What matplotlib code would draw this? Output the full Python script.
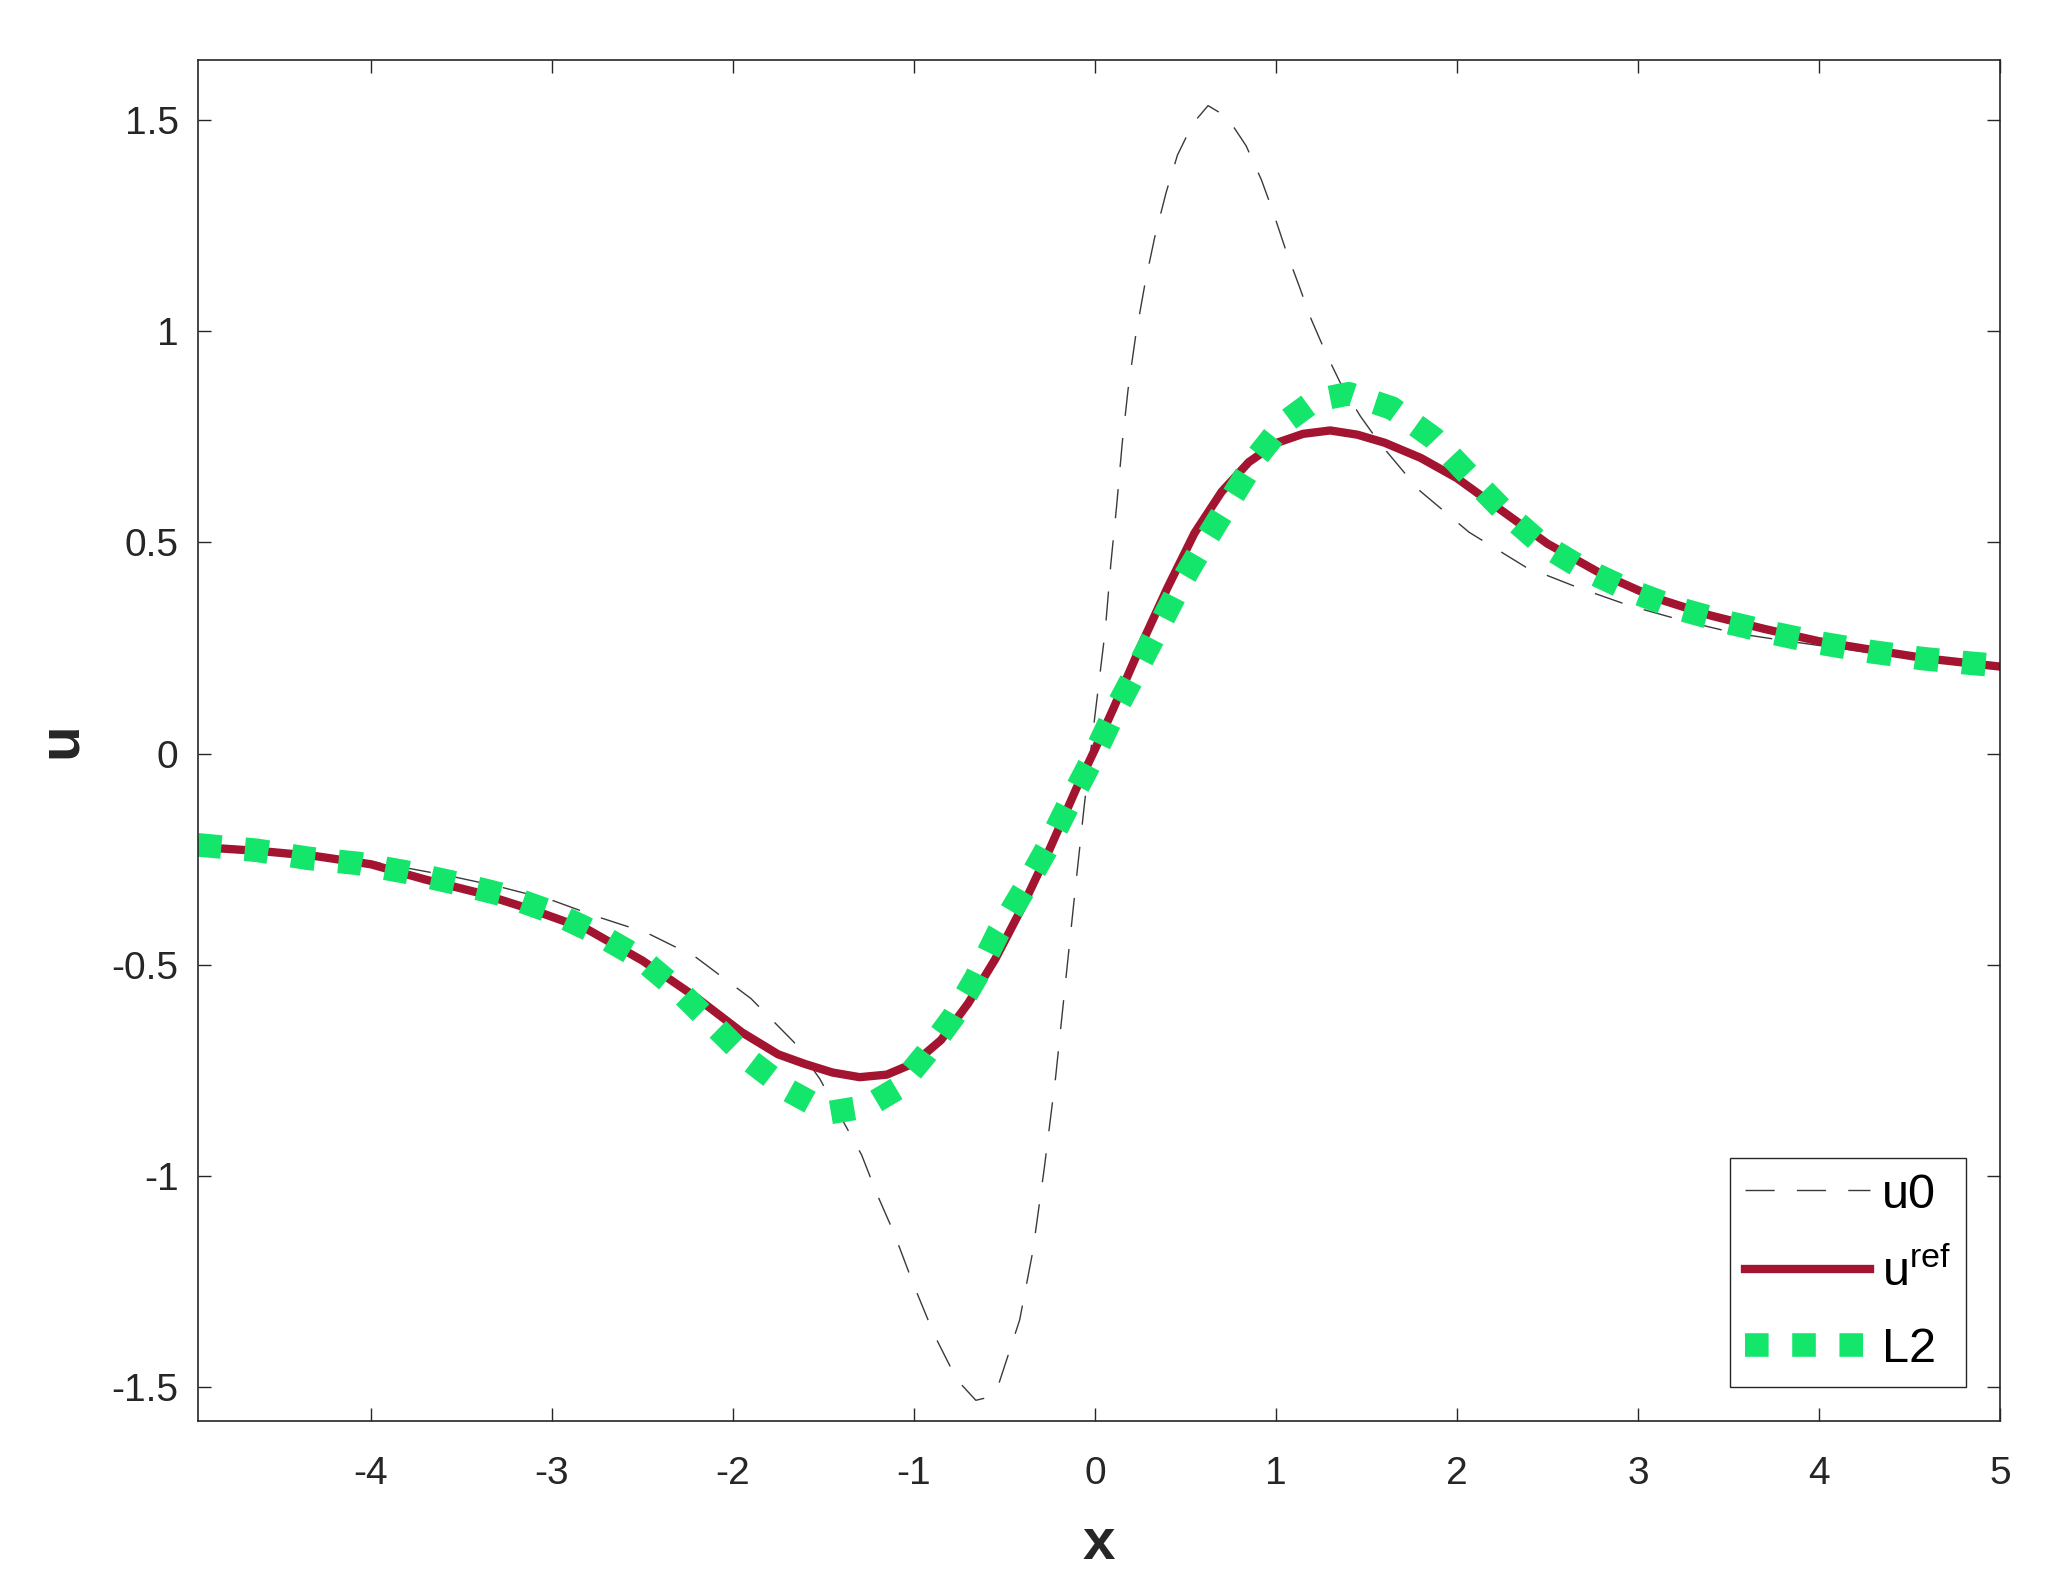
import matplotlib
matplotlib.use('Agg')
import matplotlib.pyplot as plt
import numpy as np

plt.rcParams['font.family'] = ['Liberation Sans', 'DejaVu Sans']
plt.rcParams['axes.unicode_minus'] = False

# initial condition u0 (thin dashed)
x_u0 = [-4.956, -4.6, -4.3, -4.0, -3.56, -3.3, -3.0, -2.757, -2.477, -2.208,
        -1.9, -1.663, -1.52, -1.289, -1.205, -1.11, -1.005, -0.89, -0.763,
        -0.658, -0.6, -0.532, -0.416, -0.343, -0.28, -0.217, -0.164, -0.111,
        -0.059, 0.0, 0.057, 0.088, 0.12, 0.151, 0.183, 0.225, 0.278, 0.33,
        0.393, 0.456, 0.54, 0.625, 0.73, 0.835, 0.919, 0.982, 1.056, 1.129,
        1.192, 1.277, 1.361, 1.466, 1.571, 1.79, 2.067, 2.378, 2.663, 2.955,
        3.255, 3.539, 3.8, 4.0, 4.3, 4.6, 5.0]
u0 = [-0.218, -0.228, -0.238, -0.255, -0.290, -0.314, -0.347, -0.385, -0.424,
      -0.481, -0.580, -0.683, -0.770, -0.950, -1.042, -1.135, -1.254, -1.374,
      -1.482, -1.531, -1.525, -1.493, -1.341, -1.178, -0.982, -0.765, -0.547,
      -0.330, -0.123, 0.09, 0.292, 0.450, 0.587, 0.736, 0.862, 0.989, 1.116,
      1.222, 1.328, 1.417, 1.491, 1.534, 1.507, 1.439, 1.359, 1.285, 1.190,
      1.106, 1.031, 0.947, 0.873, 0.799, 0.736, 0.624, 0.524, 0.442, 0.394,
      0.350, 0.314, 0.285, 0.268, 0.256, 0.238, 0.222, 0.203]

# reference solution
x_ref = [-4.956, -4.6, -4.3, -4.0, -3.7, -3.4, -3.1, -2.8, -2.5, -2.2, -1.95,
         -1.75, -1.6, -1.45, -1.3, -1.15, -1.0, -0.85, -0.7, -0.55, -0.4,
         -0.25, -0.1, 0.0, 0.1, 0.25, 0.4, 0.55, 0.7, 0.85, 1.0, 1.15, 1.3,
         1.45, 1.6, 1.8, 2.0, 2.2, 2.5, 2.8, 3.1, 3.4, 3.7, 4.0, 4.3, 4.6, 5.0]
u_ref = [-0.221, -0.231, -0.243, -0.262, -0.298, -0.330, -0.371, -0.417,
         -0.490, -0.578, -0.660, -0.712, -0.735, -0.755, -0.766, -0.760,
         -0.733, -0.678, -0.591, -0.486, -0.362, -0.226, -0.080, 0.010, 0.105,
         0.252, 0.392, 0.522, 0.620, 0.690, 0.735, 0.757, 0.765, 0.755, 0.736,
         0.700, 0.652, 0.590, 0.497, 0.425, 0.368, 0.327, 0.295, 0.266, 0.245,
         0.225, 0.206]

# L2 solution
x_l2 = [-4.956, -4.629, -4.345, -4.07, -3.81, -3.525, -3.263, -3.001, -2.75,
        -2.51, -2.302, -2.106, -1.909, -1.69, -1.468, -1.258, -1.089, -0.932,
        -0.784, -0.658, -0.532, -0.395, -0.269, -0.143, -0.017, 0.11, 0.236,
        0.362, 0.488, 0.625, 0.761, 0.898, 1.045, 1.213, 1.403, 1.64, 1.874,
        2.073, 2.262, 2.462, 2.695, 2.95, 3.217, 3.483, 3.749, 4.015, 4.293,
        4.57, 4.836, 5.0]
u_l2 = [-0.216, -0.229, -0.248, -0.260, -0.280, -0.307, -0.335, -0.375, -0.426,
        -0.485, -0.560, -0.643, -0.726, -0.798, -0.850, -0.835, -0.792, -0.710,
        -0.624, -0.531, -0.422, -0.324, -0.227, -0.118, -0.015, 0.100, 0.202,
        0.307, 0.413, 0.514, 0.609, 0.704, 0.783, 0.836, 0.852, 0.818, 0.746,
        0.656, 0.573, 0.498, 0.438, 0.387, 0.344, 0.312, 0.285, 0.261, 0.241,
        0.225, 0.214, 0.208]

x_ticks = [-4, -3, -2, -1, 0, 1, 2, 3, 4, 5]
y_ticks = [-1.5, -1, -0.5, 0, 0.5, 1, 1.5]

axcol = '#262626'

fig = plt.figure(figsize=(20.6, 15.88), dpi=100)
ax = fig.add_axes([0.09612, 0.10516, 0.87476, 0.85705])

ax.plot(x_u0, u0, color='#3a3a3a', lw=1.0, dashes=(21, 16), label='u0')
ax.plot(x_ref, u_ref, color='#a2142f', lw=6.0, label='$\\mathregular{u^{ref}}$')
ax.plot(x_l2, u_l2, color='#14e66b', lw=17, linestyle=(0, (1, 1)),
        dash_capstyle='butt', label='L2')

ax.set_xlim(-4.955, 5)
ax.set_ylim(-1.58, 1.642)
ax.set_xticks(x_ticks)
ax.set_xticklabels(['%g' % t for t in x_ticks])
ax.set_yticks(y_ticks)
ax.set_yticklabels(['%g' % t for t in y_ticks])

ax.tick_params(direction='in', length=9.5, width=1.0, top=True, right=True,
               labelsize=28, colors=axcol)
ax.tick_params(axis='x', pad=25)
ax.tick_params(axis='y', pad=14)
for s in ax.spines.values():
    s.set_linewidth(1.2)
    s.set_color(axcol)

ax.set_xlabel('x', fontsize=42, fontweight='bold', labelpad=18, color=axcol)
ax.set_ylabel('u', fontsize=42, fontweight='bold', labelpad=17, color=axcol)

leg = ax.legend(loc='lower right', fontsize=35, frameon=True, fancybox=False,
                edgecolor=axcol, framealpha=1, handlelength=2.57,
                handletextpad=0.25, borderpad=0.3, labelspacing=0.65,
                borderaxespad=0.7)
leg.get_frame().set_linewidth(1.0)

fig.savefig('out.png', dpi=100)
